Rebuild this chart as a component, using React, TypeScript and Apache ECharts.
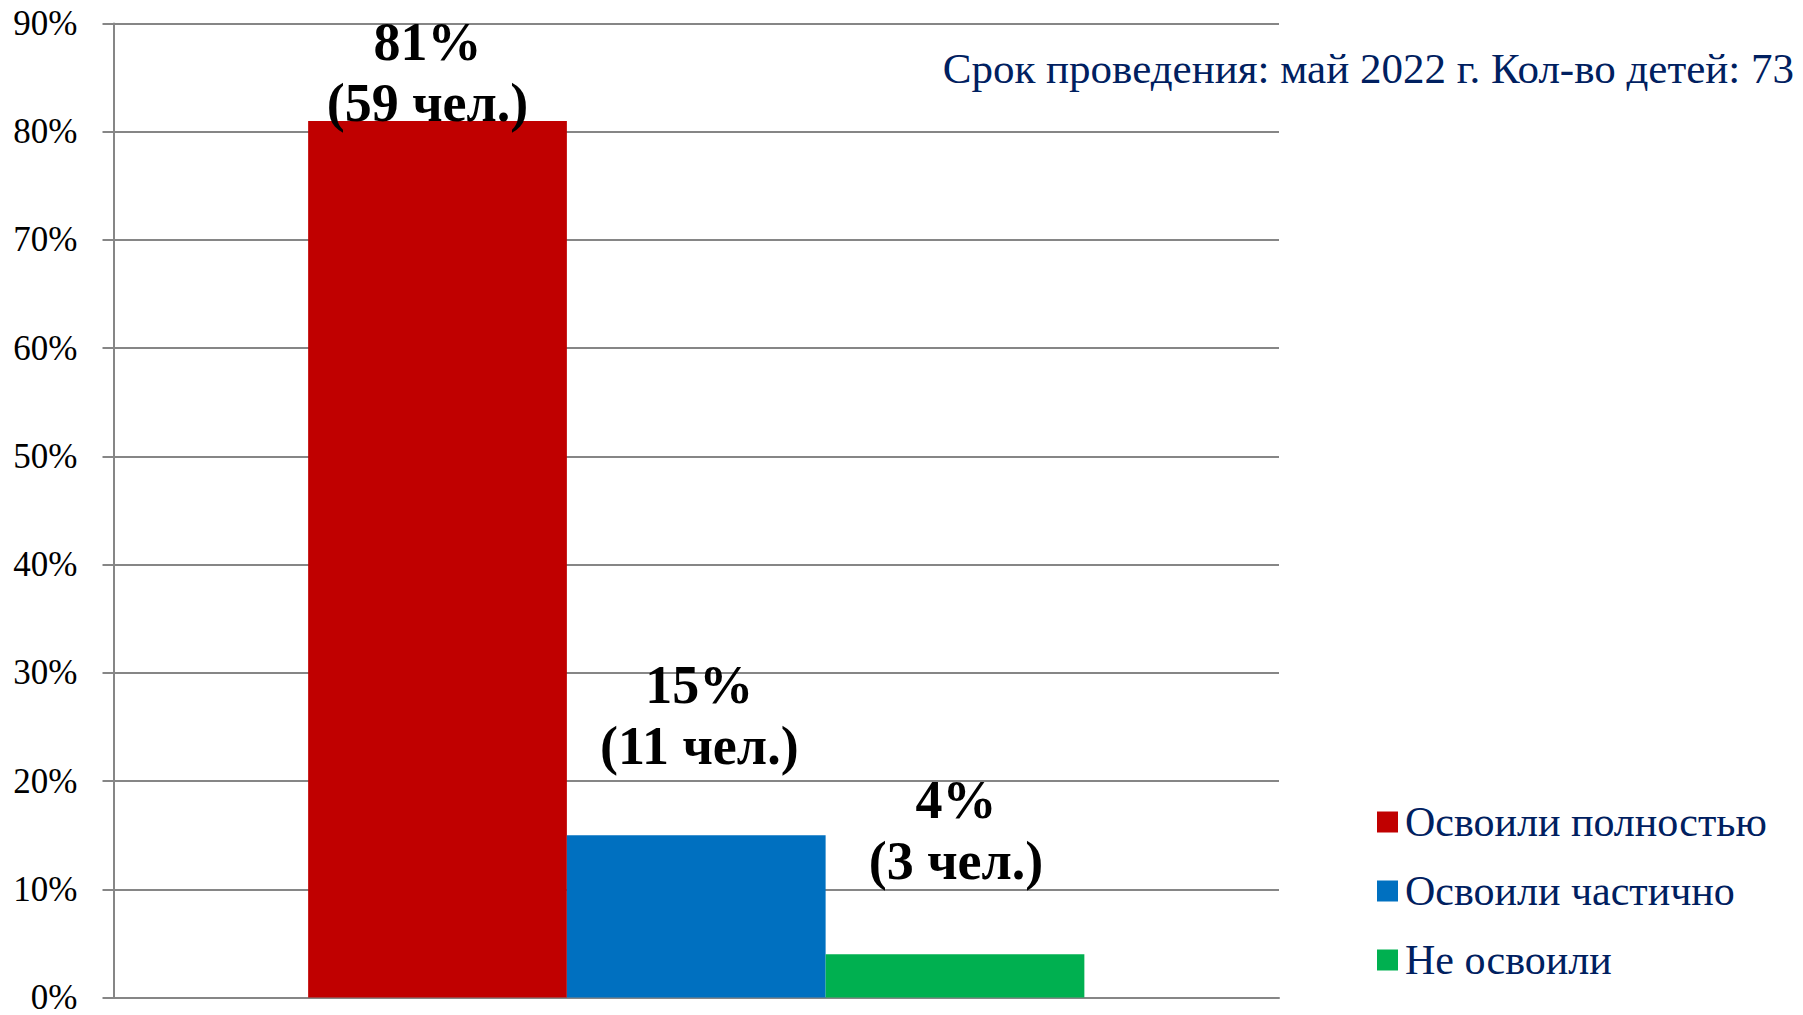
import React, { useEffect, useRef } from "react";
import * as echarts from "echarts";

const categories = [""];
const seriesNames = ["Освоили полностью", "Освоили частично", "Не освоили"];
const percents = [81, 15, 4];
const counts = [59, 11, 3];
const colors = ["#C00000", "#0070C0", "#00B050"];
const yTicks = { min: 0, max: 90, interval: 10 };
const subtitle = "Срок проведения: май 2022 г. Кол-во детей: 73";

const labelOffsets = [
  [-10, 13],
  [3, -59],
  [1, -63],
];

export default function App() {
  const ref = useRef<HTMLDivElement>(null);
  useEffect(() => {
    if (!ref.current) return;
    const chart = echarts.init(ref.current, undefined, { renderer: "svg" });
    const serif = "'Liberation Serif', 'Times New Roman', serif";
    chart.setOption({
      animation: false,
      backgroundColor: "#ffffff",
      grid: { left: 113.5, right: 524, top: 23.5, bottom: 15, containLabel: false },
      legend: {
        orient: "vertical",
        left: 1372,
        top: 796,
        itemWidth: 21,
        itemHeight: 21,
        itemGap: 27,
        icon: "rect",
        data: seriesNames,
        textStyle: {
          fontFamily: serif,
          fontSize: 42,
          lineHeight: 42,
          color: "#002060",
          padding: [0, 0, 0, 2],
        },
      },
      graphic: [
        {
          type: "text",
          right: 9,
          top: 47,
          style: {
            text: subtitle,
            font: `43px ${serif}`,
            fill: "#002060",
          },
        },
      ],
      xAxis: {
        type: "category",
        data: categories,
        axisLine: { show: true, lineStyle: { color: "#868686", width: 2 } },
        axisTick: { show: false },
        axisLabel: { show: false },
        splitLine: { show: false },
      },
      yAxis: {
        type: "value",
        min: yTicks.min,
        max: yTicks.max,
        interval: yTicks.interval,
        axisLine: { show: true, lineStyle: { color: "#868686", width: 2 } },
        axisTick: { show: true, length: 11, lineStyle: { color: "#868686", width: 2 } },
        axisLabel: {
          formatter: "{value}%",
          fontFamily: serif,
          fontSize: 35,
          color: "#000000",
          margin: 36,
        },
        splitLine: { show: true, lineStyle: { color: "#868686", width: 2 } },
      },
      series: seriesNames.map((name, i) => ({
        type: "bar",
        name,
        data: [percents[i]],
        barGap: "0%",
        barCategoryGap: "33.4%",
        itemStyle: { color: colors[i] },
        label: {
          show: true,
          position: "top",
          distance: 0,
          offset: labelOffsets[i],
          formatter: () => `${percents[i]}%\n(${counts[i]} чел.)`,
          fontFamily: serif,
          fontWeight: "bold",
          fontSize: 54,
          lineHeight: 61,
          color: "#000000",
          align: "center",
        },
      })),
    });
    return () => chart.dispose();
  }, []);
  return (
    <div
      ref={ref}
      style={{ position: "fixed", left: 0, top: 0, width: 1803, height: 1015 }}
    />
  );
}
